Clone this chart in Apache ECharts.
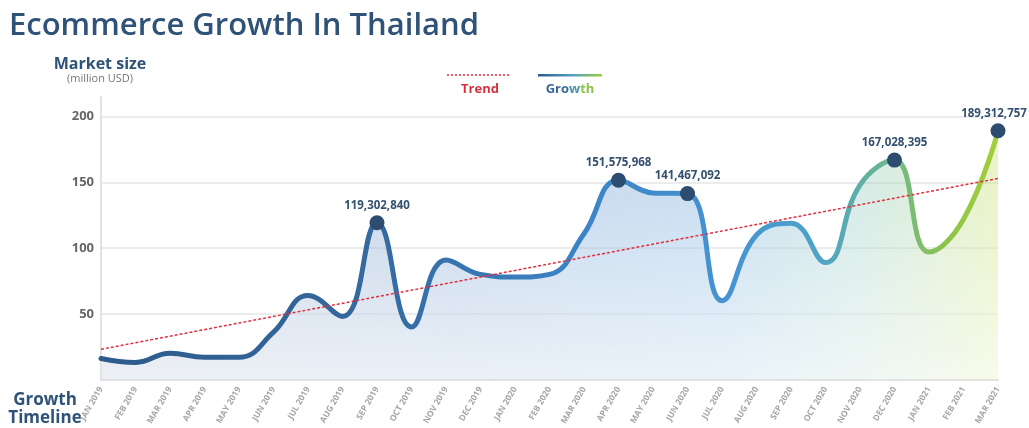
<!DOCTYPE html>
<html>
<head>
<meta charset="utf-8">
<script src="https://cdn.jsdelivr.net/npm/echarts@6/dist/echarts.min.js"></script>
<style>
  html, body { margin: 0; padding: 0; background: #fff; }
  #chart { width: 1029px; height: 428px; }
</style>
</head>
<body>
<div id="chart"></div>
<script>
// 月份
const months = [
  'JAN 2019', 'FEB 2019', 'MAR 2019', 'APR 2019', 'MAY 2019', 'JUN 2019', 'JUL 2019', 'AUG 2019', 'SEP 2019',
  'OCT 2019', 'NOV 2019', 'DEC 2019', 'JAN 2020', 'FEB 2020', 'MAR 2020', 'APR 2020', 'MAY 2020', 'JUN 2020',
  'JUL 2020', 'AUG 2020', 'SEP 2020', 'OCT 2020', 'NOV 2020', 'DEC 2020', 'JAN 2021', 'FEB 2021', 'MAR 2021'
];
// market size, million USD
const growth = [
  16, 13, 20, 17, 17, 36, 64, 48, 119.3,
  40, 91, 80, 78, 80, 111, 151.6, 142, 141.5,
  60, 110, 119, 89, 148, 167.0, 97, 122, 189.3
];
// labelled points
const peakIndex = [8, 15, 17, 23, 26];
const peakLabels = ['119,302,840', '151,575,968', '141,467,092', '167,028,395', '189,312,757'];
// trend line ends
const trendStart = 23;
const trendEnd = 153;
const yTicks = [50, 100, 150, 200];

const chart = echarts.init(document.getElementById('chart'));

const navy = '#2f5278';

const trendData = months.map(function (m, i) {
  if (i === 0) return trendStart;
  if (i === months.length - 1) return trendEnd;
  return null;
});

const peakData = peakIndex.map(function (idx, k) {
  const item = {
    value: [idx, growth[idx]],
    label: { formatter: peakLabels[k] }
  };
  // last label sits against the right edge
  if (idx === months.length - 1) item.label.offset = [-4, 0];
  return item;
});

const lineGrad = new echarts.graphic.LinearGradient(0, 0, 1, 0, [
  { offset: 0, color: '#2d5a8a' },
  { offset: 0.3, color: '#35699f' },
  { offset: 0.5, color: '#3a80c2' },
  { offset: 0.7, color: '#4694d2' },
  { offset: 0.8, color: '#4ea3c6' },
  { offset: 0.88, color: '#6fb88c' },
  { offset: 0.94, color: '#8cc44a' },
  { offset: 1, color: '#a5cf3a' }
]);

const areaGrad = new echarts.graphic.LinearGradient(0, 0, 1, 0, [
  { offset: 0, color: 'rgba(50,90,140,0.34)' },
  { offset: 0.4, color: 'rgba(55,115,185,0.40)' },
  { offset: 0.7, color: 'rgba(70,145,210,0.42)' },
  { offset: 0.85, color: 'rgba(100,180,160,0.38)' },
  { offset: 1, color: 'rgba(185,218,70,0.44)' }
]);

// white fade toward the bottom
const fadeGrad = new echarts.graphic.LinearGradient(0, 0, 0, 1, [
  { offset: 0, color: 'rgba(255,255,255,0)' },
  { offset: 0.3, color: 'rgba(255,255,255,0.1)' },
  { offset: 1, color: 'rgba(255,255,255,0.9)' }
]);

const legendLine = new echarts.graphic.LinearGradient(0, 0, 1, 0, [
  { offset: 0, color: '#2d5a8a' },
  { offset: 0.5, color: '#4a9cc8' },
  { offset: 1, color: '#9ccd3c' }
]);

const option = {
  backgroundColor: '#fff',
  animation: false,
  grid: { left: 101, right: 31, top: 97, bottom: 38 },
  graphic: [
    {
      type: 'text', left: 9, top: 11,
      style: { text: 'Ecommerce Growth In Thailand', fill: navy, font: '600 31px "Open Sans"' }
    },
    {
      type: 'text', x: 100, y: 64,
      style: { text: 'Market size', fill: navy, font: '700 16px "Open Sans"', align: 'center', verticalAlign: 'middle' }
    },
    {
      type: 'text', x: 100, y: 79,
      style: { text: '(million USD)', fill: '#777', font: '11px "Open Sans"', align: 'center', verticalAlign: 'middle' }
    },
    {
      type: 'line', shape: { x1: 447, y1: 75, x2: 511, y2: 75 },
      style: { stroke: '#e0303f', lineWidth: 1.5, lineDash: [2, 2] }
    },
    {
      type: 'text', x: 480, y: 89,
      style: { text: 'Trend', fill: '#d8303c', font: '700 13px "Open Sans"', align: 'center', verticalAlign: 'middle' }
    },
    {
      type: 'rect', shape: { x: 538, y: 74, width: 64, height: 2.5 },
      style: { fill: legendLine }
    },
    {
      type: 'text', x: 570, y: 89,
      style: {
        text: '{a|Gro}{b|w}{c|th}', align: 'center', verticalAlign: 'middle',
        rich: {
          a: { fill: '#3a6896', font: '700 13px "Open Sans"' },
          b: { fill: '#4d93ab', font: '700 13px "Open Sans"' },
          c: { fill: '#8dc24a', font: '700 13px "Open Sans"' }
        }
      }
    },
    {
      type: 'text', x: 45, y: 400,
      style: { text: 'Growth', fill: navy, font: '700 17px "Open Sans"', align: 'center', verticalAlign: 'middle' }
    },
    {
      type: 'text', x: 45, y: 418,
      style: { text: 'Timeline', fill: navy, font: '700 17px "Open Sans"', align: 'center', verticalAlign: 'middle' }
    }
  ],
  xAxis: {
    type: 'category',
    data: months,
    boundaryGap: false,
    axisLine: { lineStyle: { color: '#e2e2e2', width: 2 } },
    axisTick: { show: false },
    axisLabel: {
      rotate: 60, interval: 0, margin: 8,
      color: '#a6a6a6', fontSize: 8.5, fontWeight: 'bold', fontFamily: 'Open Sans'
    },
    splitLine: { show: false }
  },
  yAxis: {
    type: 'value',
    min: 0, max: 215, interval: 50,
    axisLine: { show: true, lineStyle: { color: '#e2e2e2', width: 2 } },
    axisTick: { show: false },
    axisLabel: {
      showMinLabel: false, showMaxLabel: false, margin: 7,
      color: '#666', fontSize: 13, fontWeight: 'bold', fontFamily: 'Open Sans',
      formatter: function (v) { return yTicks.indexOf(v) >= 0 ? String(v) : ''; }
    },
    splitLine: { showMinLine: false, showMaxLine: false, lineStyle: { color: '#e6e6e6', width: 1.5 } }
  },
  series: [
    {
      name: 'area',
      type: 'line',
      data: growth,
      smooth: 0.45,
      showSymbol: false,
      silent: true,
      lineStyle: { width: 0 },
      areaStyle: { color: areaGrad },
      z: 1
    },
    {
      name: 'fade',
      type: 'line',
      data: growth,
      smooth: 0.45,
      showSymbol: false,
      silent: true,
      lineStyle: { width: 0 },
      areaStyle: { color: fadeGrad },
      z: 2
    },
    {
      name: 'Growth',
      type: 'line',
      data: growth,
      smooth: 0.45,
      showSymbol: false,
      lineStyle: { color: lineGrad, width: 5, cap: 'round' },
      z: 3
    },
    {
      name: 'Trend',
      type: 'line',
      data: trendData,
      connectNulls: true,
      showSymbol: false,
      lineStyle: { color: '#e0303f', width: 1.5, type: [3, 2] },
      z: 4
    },
    {
      type: 'scatter',
      data: peakData,
      symbolSize: 15,
      itemStyle: { color: '#2c4d70', opacity: 1 },
      label: {
        show: true, position: 'top', distance: 4,
        color: '#34506f', fontSize: 11.5, fontWeight: 'bold', fontFamily: 'Open Sans'
      },
      z: 5
    }
  ]
};

chart.setOption(option);
</script>
</body>
</html>
